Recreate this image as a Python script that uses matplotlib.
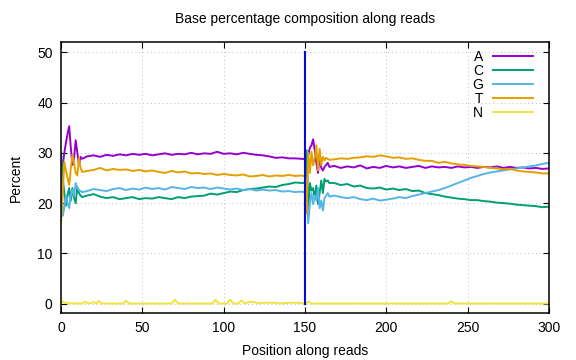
import matplotlib
matplotlib.use('Agg')
import matplotlib.pyplot as plt

plt.rcParams['font.family'] = ['Liberation Sans', 'DejaVu Sans']

# positions used for the A/C/G/T series
pos = (list(range(0, 14)) + list(range(16, 149, 4))
       + list(range(149, 166)) + list(range(168, 301, 4)))

pct_a = [25.0, 27.5, 30.0, 32.0, 33.8, 35.3, 31.0, 27.6, 29.0, 32.5, 30.0, 27.6, 29.2, 28.8,
         29.3, 29.5, 29.2, 29.6, 29.4, 29.7, 29.5, 29.8, 29.6, 29.8, 29.5, 29.7, 29.9, 29.6,
         29.8, 29.7, 30.0, 29.7, 29.9, 29.8, 30.2, 29.8, 29.9, 29.7, 30.0, 29.8, 29.6, 29.5,
         29.3, 29.0, 29.1, 28.9, 28.9, 28.8,
         28.8, 28.7, 29.0, 29.5, 31.0, 31.5, 32.7, 30.5, 28.0, 26.0, 29.5, 27.0, 26.5, 27.2,
         27.6, 28.0, 27.2,
         27.4, 27.0, 27.3, 27.1, 27.5, 26.9, 27.2, 27.0, 27.4, 27.1, 27.3, 27.0, 27.2, 27.4,
         27.0, 27.3, 27.1, 27.2, 27.0, 27.3, 27.1, 27.2, 27.0, 27.2, 27.1, 27.3, 27.0, 27.2,
         27.0, 27.1, 26.9, 27.0, 26.8, 26.9]

pct_c = [30.0, 25.0, 22.0, 19.5, 21.5, 23.0, 20.5, 23.0, 21.0, 20.0, 23.2, 22.0, 21.5, 21.2,
         21.5, 21.8, 21.3, 21.0, 21.2, 20.8, 21.0, 21.2, 20.8, 21.0, 20.9, 21.2, 21.0, 20.8,
         21.2, 21.0, 21.3, 21.4, 21.5, 21.9, 21.7, 22.0, 22.3, 22.2, 22.6, 22.8, 22.9, 23.1,
         23.3, 23.2, 23.6, 23.8, 24.1, 24.0,
         24.0, 24.2, 30.5, 18.5, 24.0, 22.5, 23.0, 21.0, 23.5, 19.8, 22.0, 24.5, 22.0, 24.8,
         24.3, 24.5, 24.0,
         24.0, 23.6, 23.8, 23.3, 23.5, 23.0, 22.9, 23.1, 22.7, 22.9, 22.6, 22.8, 22.4, 22.5,
         22.0, 21.8, 21.6, 21.3, 21.1, 20.9, 20.8, 20.6, 20.6, 20.4, 20.3, 20.1, 20.0, 19.9,
         19.7, 19.6, 19.5, 19.4, 19.2, 19.3]

pct_g = [27.0, 17.5, 19.0, 21.6, 20.0, 19.0, 21.6, 22.6, 21.5, 24.0, 23.0, 22.6, 22.4, 22.2,
         22.4, 22.8, 22.6, 22.4, 22.8, 23.0, 22.6, 22.9, 22.7, 23.1, 22.8, 23.0, 22.7, 23.2,
         23.0, 22.8, 23.2, 23.0, 23.1, 22.8, 23.1, 22.9, 22.7, 22.9, 22.6, 22.8, 22.5, 22.7,
         22.5, 22.6, 22.3, 22.4, 22.2, 22.3,
         22.2, 22.3, 22.0, 16.0, 20.0, 22.0, 19.8, 21.5, 20.5, 23.0, 19.0, 20.5, 18.5, 21.0,
         21.5, 22.0, 21.3,
         21.5, 21.2, 21.0, 21.2, 20.8, 20.6, 20.9, 20.5, 20.7, 20.9, 21.2, 21.0, 21.4, 21.7,
         22.0, 22.3, 22.6, 23.0, 23.5, 24.0, 24.5, 25.0, 25.4, 25.8, 26.1, 26.3, 26.5, 26.7,
         26.9, 27.1, 27.3, 27.5, 27.8, 28.0]

pct_t = [16.3, 22.0, 28.2, 26.5, 25.0, 23.6, 27.0, 29.6, 28.0, 26.0, 25.5, 29.0, 27.0, 26.2,
         26.4, 26.6, 27.0, 26.5, 26.8, 26.6, 26.7, 26.4, 26.6, 26.3, 26.5, 26.2, 26.0, 26.4,
         26.1, 26.3, 25.9, 26.0, 25.8, 25.9, 25.6, 25.8, 25.6, 25.5, 25.7, 25.3, 25.4, 25.6,
         25.3, 25.5, 25.4, 25.6, 25.4, 25.5,
         25.4, 25.5, 18.0, 30.0, 26.0, 30.2, 27.5, 29.0, 31.5, 26.5, 30.8, 27.5, 29.2, 28.5,
         29.0, 28.8, 28.6,
         28.7, 28.9, 28.8, 29.0, 29.1, 29.3, 29.2, 29.5, 29.3, 29.0, 29.1, 28.8, 28.9, 28.6,
         28.4, 28.4, 28.0, 28.2, 27.9, 27.7, 27.6, 27.4, 27.3, 27.2, 27.0, 26.9, 26.7, 26.8,
         26.5, 26.3, 26.2, 26.1, 25.9, 25.9]

# N has its own positions (mostly zero with small spikes)
pos_n = [0, 2, 4, 13, 15, 17, 20, 22, 23, 25, 38, 40, 42, 68, 70, 72, 93, 95, 97,
         102, 104, 106, 109, 111, 113, 115, 117, 119, 121, 124, 132, 134, 141, 146,
         149, 151, 152, 154, 238, 240, 242, 300]
pct_n = [0.7, 0.2, 0.1, 0.05, 0.4, 0.05, 0.3, 0.1, 0.6, 0.05, 0.05, 0.6, 0.05, 0.05, 0.8,
         0.05, 0.05, 0.8, 0.05, 0.05, 0.8, 0.05, 0.05, 0.7, 0.05, 0.3, 0.4, 0.3, 0.1, 0.2,
         0.2, 0.05, 0.2, 0.2, 0.05, 0.05, 0.5, 0.05, 0.05, 0.5, 0.05, 0.05]

bases = ['A', 'C', 'G', 'T', 'N']
colors = ['#9400d3', '#009e73', '#56b4e9', '#e69f00', '#f0e442']
split_pos = 150

fig = plt.figure(figsize=(5.76, 3.6), dpi=100)
ax = fig.add_axes([0.106, 0.131, 0.847, 0.752])

series = [(pos, pct_a), (pos, pct_c), (pos, pct_g), (pos, pct_t), (pos_n, pct_n)]
for (xs, ys), name, col in zip(series, bases, colors):
    ax.plot(xs, ys, color=col, linewidth=1.4, label=name)

# read boundary marker
ax.plot([split_pos, split_pos], [0, 50], color='#0000ff', linewidth=1.5, zorder=3)
ax.plot([split_pos, split_pos], [0, 50], color='#202080', linewidth=0.5, zorder=3)

ax.set_xlim(0, 300)
ax.set_ylim(-1.8, 52)
ax.set_xticks(range(0, 301, 50))
ax.set_yticks(range(0, 51, 10))
ax.tick_params(direction='in', length=4, width=0.8, top=True, right=True,
               labelsize=10, pad=6)
for sp in ax.spines.values():
    sp.set_linewidth(1.1)
ax.grid(True, color='#c0c0c0', linestyle=(0, (1, 3)), linewidth=0.7)

ax.set_title('Base percentage composition along reads', fontsize=10, pad=14)
ax.set_xlabel('Position along reads', fontsize=10, labelpad=6)
ax.set_ylabel('Percent', fontsize=10, labelpad=10)

ax.legend(loc='upper right', bbox_to_anchor=(0.967, 0.972), borderaxespad=0,
          frameon=False, markerfirst=False, handlelength=2.9, handletextpad=0.7,
          labelspacing=0.0, borderpad=0, fontsize=10)

plt.savefig('out.png', dpi=100)
